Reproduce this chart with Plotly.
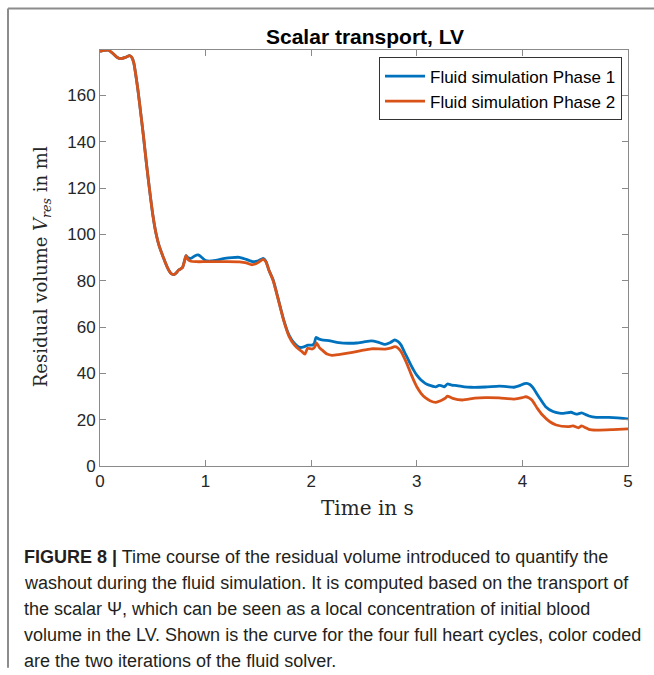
import plotly.graph_objects as go

# ---------------- data ----------------
t_common = [0.00, 0.04, 0.08, 0.12, 0.16, 0.20, 0.24, 0.28, 0.30, 0.32, 0.34, 0.36, 0.38,
            0.41, 0.44, 0.47, 0.50, 0.53, 0.56, 0.60, 0.64, 0.67, 0.70, 0.72, 0.745,
            0.78, 0.80, 0.815]
v_common = [179.0, 179.4, 179.5, 178.2, 176.5, 175.9, 176.4, 177.2, 176.5, 174.0, 168.5,
            162.0, 154.5, 143.0, 130.5, 119.0, 108.5, 100.5, 95.0, 90.0, 85.5, 83.2, 82.6,
            83.3, 84.6, 85.6, 88.5, 90.8]

t_phase1 = [0.83, 0.86, 0.90, 0.93, 0.96, 1.00, 1.05, 1.12, 1.18, 1.25, 1.32, 1.385, 1.45,
            1.50, 1.545, 1.57, 1.60, 1.64, 1.69, 1.74, 1.79, 1.84, 1.89, 1.93, 1.97, 2.01,
            2.03, 2.045, 2.07, 2.10, 2.18, 2.26, 2.35, 2.43, 2.50, 2.57, 2.63, 2.70, 2.75,
            2.79, 2.82, 2.85, 2.88, 2.905, 2.94, 2.97, 3.00, 3.04, 3.08, 3.11, 3.18, 3.21,
            3.23, 3.26, 3.29, 3.33, 3.38, 3.45, 3.51, 3.65, 3.78, 3.85, 3.92, 3.98, 4.02,
            4.04, 4.07, 4.10, 4.155, 4.22, 4.29, 4.35, 4.39, 4.46, 4.51, 4.56, 4.60, 4.63,
            4.70, 4.78, 4.86, 4.93, 5.00]
v_phase1 = [90.0, 89.6, 90.8, 91.1, 90.2, 88.7, 88.5, 89.0, 89.6, 90.0, 90.1, 89.2, 88.2,
            88.6, 89.6, 88.5, 84.5, 80.3, 71.7, 63.0, 56.5, 53.0, 51.2, 51.4, 52.2, 52.2,
            53.0, 55.5, 54.9, 54.5, 54.0, 53.3, 53.0, 53.1, 53.6, 54.0, 53.5, 52.5, 53.3,
            54.4, 53.8, 52.3, 49.5, 47.2, 44.0, 41.4, 39.2, 37.1, 35.7, 35.0, 34.2, 34.8,
            34.7, 34.2, 35.4, 34.9, 34.7, 34.2, 34.0, 34.1, 34.5, 34.3, 34.0, 34.8, 35.6,
            35.7, 35.2, 33.8, 29.9, 25.6, 23.5, 22.8, 22.7, 23.2, 22.4, 22.9, 22.2, 21.6,
            21.0, 21.0, 20.9, 20.7, 20.3]

t_phase2 = [0.835, 0.86, 0.91, 1.00, 1.10, 1.20, 1.32, 1.385, 1.436, 1.47, 1.50, 1.545,
            1.57, 1.60, 1.64, 1.69, 1.74, 1.79, 1.84, 1.88, 1.91, 1.94, 1.966, 2.01, 2.035,
            2.05, 2.08, 2.11, 2.15, 2.196, 2.26, 2.33, 2.45, 2.57, 2.70, 2.76, 2.79, 2.82,
            2.85, 2.88, 2.905, 2.94, 2.97, 3.00, 3.04, 3.08, 3.125, 3.18, 3.24, 3.27, 3.29,
            3.34, 3.43, 3.55, 3.65, 3.78, 3.92, 4.00, 4.03, 4.06, 4.09, 4.14, 4.19, 4.26,
            4.32, 4.43, 4.48, 4.53, 4.56, 4.60, 4.63, 4.70, 4.86, 5.00]
v_phase2 = [89.0, 88.4, 88.2, 88.2, 88.2, 88.2, 88.1, 87.7, 86.9, 87.2, 87.9, 89.2,
            88.2, 84.5, 80.0, 71.5, 62.8, 56.0, 52.3, 50.5, 49.5, 48.3, 50.8, 50.5, 51.5,
            53.2, 51.0, 49.8, 48.3, 47.8, 48.1, 48.6, 49.6, 50.6, 50.5, 51.0, 51.5, 51.0,
            49.4, 46.8, 44.3, 40.3, 37.1, 34.2, 31.4, 29.5, 28.2, 27.5, 28.5, 29.3, 30.2,
            29.2, 28.5, 29.3, 29.5, 29.4, 28.9, 29.5, 29.9, 29.5, 28.5, 25.0, 22.0, 19.1,
            17.7, 17.0, 17.3, 16.5, 17.3, 16.5, 15.8, 15.5, 15.7, 16.0]

series_names = ["Fluid simulation Phase 1", "Fluid simulation Phase 2"]
x_ticks = [0, 1, 2, 3, 4, 5]
y_ticks = [0, 20, 40, 60, 80, 100, 120, 140, 160]

caption_lines = [
    "<b>FIGURE 8 |</b> Time course of the residual volume introduced to quantify the",
    "washout during the fluid simulation. It is computed based on the transport of",
    "the scalar \u03a8, which can be seen as a local concentration of initial blood",
    "volume in the LV. Shown is the curve for the four full heart cycles, color coded",
    "are the two iterations of the fluid solver.",
]

# ---------------- layout geometry (pixels) ----------------
W_PX, H_PX = 654, 675
L, R, T, B = 100, 628, 49.5, 466
PW, PH = R - L, B - T


def xp(px):
    return (px - L) / PW


def yp(py):
    return (B - py) / PH


SANS = "Liberation Sans, Arial, sans-serif"
SERIF = "DejaVu Serif, Liberation Serif, serif"
AXCOL = "#8a8a8a"

fig = go.Figure()
fig.add_trace(go.Scatter(x=t_common + t_phase1, y=v_common + v_phase1, mode="lines",
                         name=series_names[0],
                         line=dict(color="#0072BD", width=2.8, shape="spline", smoothing=0.6)))
fig.add_trace(go.Scatter(x=t_common + t_phase2, y=v_common + v_phase2, mode="lines",
                         name=series_names[1],
                         line=dict(color="#D95319", width=2.8, shape="spline", smoothing=0.6)))

fig.update_xaxes(range=[0, 5], tickvals=x_ticks, ticks="inside", ticklen=6, tickcolor=AXCOL,
                 showline=True, linecolor=AXCOL, linewidth=1, mirror="allticks",
                 showgrid=False, zeroline=False,
                 tickfont=dict(family=SANS, size=17, color="#262626"))
fig.update_yaxes(range=[0, 179.6], tickvals=y_ticks, ticks="inside", ticklen=6, tickcolor=AXCOL,
                 showline=True, linecolor=AXCOL, linewidth=1, mirror="allticks",
                 showgrid=False, zeroline=False,
                 tickfont=dict(family=SANS, size=17, color="#262626"))

annotations = [
    dict(text="<b>Scalar transport, LV</b>", x=xp(365), y=yp(36), xref="paper", yref="paper",
         showarrow=False, font=dict(family=SANS, size=21, color="black"),
         xanchor="center", yanchor="middle"),
    dict(text="Time in s", x=xp(367), y=yp(508), xref="paper", yref="paper",
         showarrow=False, font=dict(family=SERIF, size=20, color="#262626"),
         xanchor="center", yanchor="middle"),
    dict(text="Residual volume <i>V</i><sub><i>res</i></sub> in ml", x=xp(42), y=yp(267),
         xref="paper", yref="paper", textangle=-90, showarrow=False,
         font=dict(family=SERIF, size=18, color="#262626"),
         xanchor="center", yanchor="middle"),
]
for i, line in enumerate(caption_lines):
    annotations.append(dict(text=line, x=xp(22), y=yp(557 + 26 * i), xref="paper", yref="paper",
                            showarrow=False, xanchor="left", yanchor="middle", align="left",
                            font=dict(family=SANS, size=18, color="#231f20")))

shapes = [
    dict(type="line", xref="paper", yref="paper", x0=xp(8), x1=xp(8), y0=yp(8), y1=yp(668),
         line=dict(color="#8c8c8c", width=2)),
    dict(type="line", xref="paper", yref="paper", x0=xp(8), x1=xp(654), y0=yp(8), y1=yp(8),
         line=dict(color="#8c8c8c", width=2)),
]

fig.update_layout(
    width=W_PX, height=H_PX,
    margin=dict(l=L, r=W_PX - R, t=T, b=H_PX - B),
    paper_bgcolor="white", plot_bgcolor="white",
    showlegend=True,
    legend=dict(x=xp(622), y=yp(57), xanchor="right", yanchor="top",
                bgcolor="white", bordercolor="#333333", borderwidth=1,
                font=dict(family=SANS, size=17, color="black"),
                tracegroupgap=0, itemwidth=40),
    annotations=annotations,
    shapes=shapes,
)

fig.write_html("out.html")
